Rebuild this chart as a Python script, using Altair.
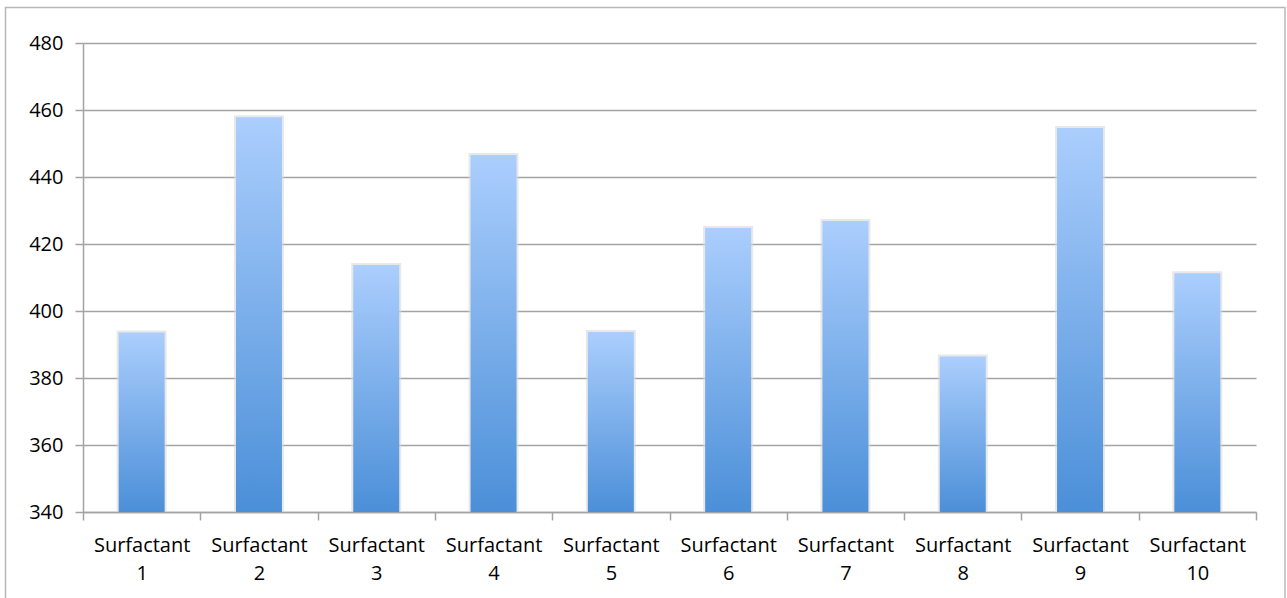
import altair as alt
import pandas as pd

# Surfactant categories and their measured values
surfactants = [
    "Surfactant 1", "Surfactant 2", "Surfactant 3", "Surfactant 4", "Surfactant 5",
    "Surfactant 6", "Surfactant 7", "Surfactant 8", "Surfactant 9", "Surfactant 10",
]
values = [393.6, 457.8, 413.7, 446.6, 393.7, 424.8, 426.9, 386.4, 454.6, 411.3]
y_ticks = [340, 360, 380, 400, 420, 440, 460, 480]
baseline = 340

df = pd.DataFrame({"surfactant": surfactants, "value": values})

FONT = "Open Sans"
GRID = "#a3a3a3"

x_enc = alt.X(
    "surfactant:N",
    sort=surfactants,
    title=None,
    scale=alt.Scale(paddingInner=0, paddingOuter=0),
    axis=alt.Axis(
        labelAngle=0,
        labelExpr="split(datum.label, ' ')",
        labelLineHeight=28,
        labelFontSize=20,
        labelFont=FONT,
        labelColor="#000000",
        labelPadding=15,
        tickBand="extent",
        tickSize=8,
        tickColor=GRID,
        tickWidth=1.5,
        domainColor=GRID,
        domainWidth=1.5,
        grid=False,
    ),
)

y_enc = alt.Y(
    "value:Q",
    title=None,
    scale=alt.Scale(domain=[340, 480], nice=False, zero=False),
    axis=alt.Axis(
        values=y_ticks,
        labelFontSize=20,
        labelFont=FONT,
        labelColor="#000000",
        labelPadding=12,
        tickSize=8,
        tickColor=GRID,
        tickWidth=1.5,
        domainColor=GRID,
        domainWidth=1.5,
        grid=True,
        gridColor=GRID,
        gridWidth=1.5,
    ),
)
y2_enc = alt.Y2(datum=baseline)

# faint shadow behind each bar
shadow = alt.Chart(df).mark_bar(size=50, color="#d9d9d9", opacity=0.6, yOffset=-2).encode(
    x=x_enc, y=y_enc, y2=y2_enc
)

bars = alt.Chart(df).mark_bar(
    size=46,
    color=alt.Gradient(
        gradient="linear",
        stops=[
            alt.GradientStop(color="#abcefd", offset=0),
            alt.GradientStop(color="#4b8fd8", offset=1),
        ],
        x1=0, x2=0, y1=0, y2=1,
    ),
).encode(x=x_enc, y=y_enc, y2=y2_enc)

# thin outer frame around the whole chart
frame = alt.Chart(pd.DataFrame({"k": [0]})).mark_rect(
    fill=None, stroke="#b8b8b8", strokeWidth=1.5
).encode(
    x=alt.value(-77.5), x2=alt.value(1202), y=alt.value(-35.5), y2=alt.value(570)
)

chart = alt.layer(shadow, bars, frame).properties(
    width=1173,
    height=469,
    autosize=alt.AutoSizeParams(type="none"),
    padding={"left": 83, "top": 43, "right": 31, "bottom": 86},
    background="#ffffff",
).configure_view(stroke=None)

chart.save("out.html", embed_options={"renderer": "svg", "actions": False})
